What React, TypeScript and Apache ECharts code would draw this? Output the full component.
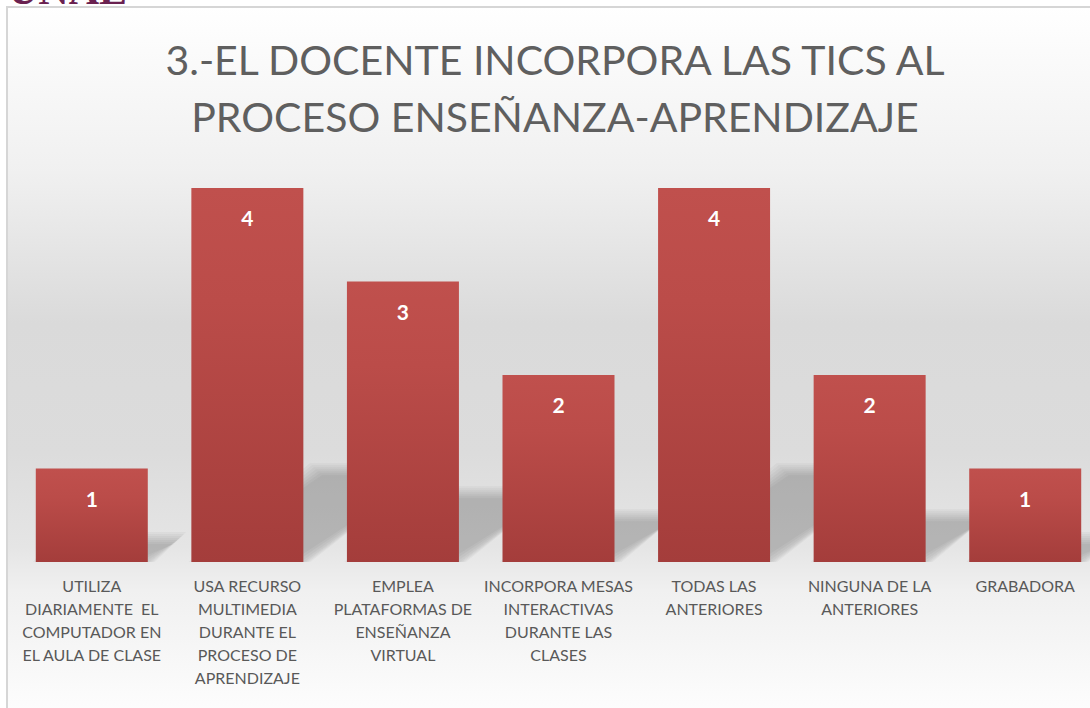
import React, { useEffect, useRef } from "react";
import * as echarts from "echarts";

const titleLines = ["3.-EL DOCENTE INCORPORA LAS TICS AL", "PROCESO ENSEÑANZA-APRENDIZAJE"];
const categories = [
  "UTILIZA\nDIARIAMENTE  EL\nCOMPUTADOR EN\nEL AULA DE CLASE",
  "USA RECURSO\nMULTIMEDIA\nDURANTE EL\nPROCESO DE\nAPRENDIZAJE",
  "EMPLEA\nPLATAFORMAS DE\nENSEÑANZA\nVIRTUAL",
  "INCORPORA MESAS\nINTERACTIVAS\nDURANTE LAS\nCLASES",
  "TODAS LAS\nANTERIORES",
  "NINGUNA DE LA\nANTERIORES",
  "GRABADORA",
];
const values = [1, 4, 3, 2, 4, 2, 1];

const FONT = "Lato, 'Noto Sans', sans-serif";

export default function App() {
  const ref = useRef<HTMLDivElement>(null);
  useEffect(() => {
    if (!ref.current) return;
    const chart = echarts.init(ref.current, null, { renderer: "svg" });
    const barW = 112;
    chart.setOption({
      animation: false,
      title: {
        text: titleLines.join("\n"),
        left: "center",
        top: 31,
        padding: 0,
        textStyle: {
          fontFamily: FONT,
          fontWeight: "normal",
          fontSize: 41,
          lineHeight: 57,
          color: "#5f5f5f",
        },
      },
      graphic: [
        {
          type: "text",
          z: -20,
          silent: true,
          x: 8,
          y: 11,
          style: {
            text: "UNAE",
            fontFamily: "'Liberation Serif', 'DejaVu Serif', serif",
            fontWeight: "bold",
            fontSize: 42,
            fill: "#6a2150",
            verticalAlign: "bottom",
          },
        },
        {
          type: "rect",
          z: -10,
          silent: true,
          shape: { x: 7, y: 7, width: 1120, height: 720 },
          style: {
            fill: new echarts.graphic.LinearGradient(0, 0, 0, 1, [
              { offset: 0, color: "#ffffff" },
              { offset: 0.23, color: "#f0f0f0" },
              { offset: 0.44, color: "#dadada" },
              { offset: 0.62, color: "#dcdcdc" },
              { offset: 0.75, color: "#e5e5e5" },
              { offset: 0.81, color: "#f0f0f0" },
              { offset: 0.98, color: "#fdfdfd" },
            ]),
            stroke: "#d6d6d6",
            lineWidth: 2,
          },
        },
      ],
      grid: { left: 14, right: 7, top: 188, bottom: 146, containLabel: false },
      xAxis: {
        type: "category",
        data: categories,
        axisLine: { show: false },
        axisTick: { show: false },
        axisLabel: {
          interval: 0,
          margin: 12,
          color: "#595959",
          fontFamily: FONT,
          fontSize: 16,
          lineHeight: 23,
          verticalAlign: "top",
        },
      },
      yAxis: {
        type: "value",
        min: 0,
        max: 4,
        show: false,
        splitLine: { show: false },
      },
      series: [
        {
          type: "custom",
          z: 1,
          clip: false,
          silent: true,
          data: values.map((v, i) => [i, v]),
          encode: { x: 0, y: 1 },
          renderItem: (params: any, api: any) => {
            const i = api.value(0);
            const v = api.value(1);
            const top = api.coord([i, v]);
            const base = api.coord([i, 0]);
            const h = base[1] - top[1];
            const hs = h * 0.245;
            const shift = hs / 0.73;
            const x0 = top[0] - barW / 2;
            const x1 = top[0] + barW / 2;
            const y = base[1];
            const children: any[] = [];
            for (let e = 7; e >= -5; e -= 2) {
              children.push({
                type: "polygon",
                shape: {
                  points: [
                    [x0 + 4 - e, y + Math.min(e, 0)],
                    [x1 + e, y + Math.min(e, 0)],
                    [x1 + shift + e, y - hs - e],
                    [x0 + shift - e, y - hs - e],
                  ],
                },
                style: { fill: "rgba(0,0,0,0.032)" },
              });
            }
            return { type: "group", children };
          },
        },
        {
          type: "bar",
          z: 3,
          data: values,
          barWidth: barW,
          itemStyle: {
            color: new echarts.graphic.LinearGradient(0, 0, 0, 1, [
              { offset: 0, color: "#c0504d" },
              { offset: 0.3, color: "#bb4c49" },
              { offset: 1, color: "#a43d3b" },
            ]),
          },
          label: {
            show: true,
            position: "insideTop",
            distance: 19,
            color: "#ffffff",
            fontFamily: FONT,
            fontWeight: "bold",
            fontSize: 21,
          },
        },
      ],
    });
    return () => chart.dispose();
  }, []);
  return (
    <div style={{ position: "fixed", left: 0, top: 0, width: 1090, height: 708, overflow: "hidden", background: "#fff" }}>
      <div ref={ref} style={{ width: 1110, height: 708 }} />
    </div>
  );
}
